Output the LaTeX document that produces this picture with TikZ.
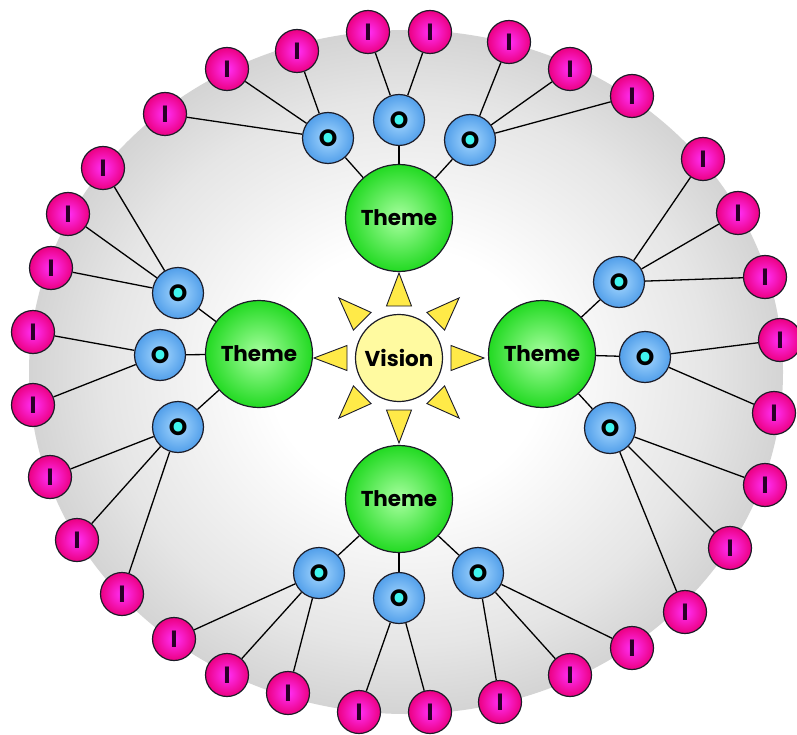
\documentclass[tikz,border=0pt]{standalone}
\usepackage{fontspec}
\setmainfont{Poppins}
\usetikzlibrary{backgrounds}
\definecolor{iin}{HTML}{FF30F8}
\definecolor{iout}{HTML}{EC0082}
\definecolor{oin}{HTML}{A6D8FF}
\definecolor{oout}{HTML}{529FEA}
\definecolor{ocore}{HTML}{40F4EE}
\definecolor{gin}{HTML}{A8FFA0}
\definecolor{gout}{HTML}{22DA22}
\definecolor{vfill}{HTML}{FFFAA0}
\definecolor{tfill}{HTML}{FFEA48}
\definecolor{edge}{HTML}{1C1C28}
\definecolor{iletter}{HTML}{2A0028}
\pgfdeclareradialshading{bgshade}{\pgfpoint{0bp}{0bp}}{color(0bp)=(white); color(9bp)=(white); color(20bp)=(black!10); color(25bp)=(black!17); color(50bp)=(black!17)}
\pgfdeclarelayer{backdrop}
\pgfdeclarelayer{lines}
\pgfsetlayers{backdrop,lines,main}
\begin{document}
\begin{tikzpicture}[x=1pt,y=-1pt,
  txt/.style={font=\fontsize{21.5}{24}\selectfont\bfseries},
  smalltxt/.style={font=\fontsize{23.5}{26}\selectfont\bfseries},
  inode/.style={circle, draw=edge, line width=1.2pt, minimum size=43pt, inner sep=0pt, shade, inner color=iin, outer color=iout, smalltxt, text=iletter},
  onode/.style={circle, draw=edge, line width=1.2pt, minimum size=51pt, inner sep=0pt, shade, inner color=oin, outer color=oout, smalltxt, text=black,
     path picture={\fill[ocore] (path picture bounding box.center) circle (5.8pt);}},
  theme/.style={circle, draw=edge, line width=1.2pt, minimum size=107pt, inner sep=0pt, shade, inner color=gin, outer color=gout, txt, text=black},
  vis/.style={circle, draw=edge, line width=1.2pt, minimum size=87pt, inner sep=0pt, fill=vfill, txt, text=black},
  tri/.style={draw=edge, line width=0.9pt, fill=tfill, line join=miter},
  link/.style={draw=black, line width=1.3pt}]
\useasboundingbox (0,0) rectangle (797,735);
\begin{pgfonlayer}{backdrop}
\shade[shading=bgshade] (406,372) ellipse [x radius=377pt, y radius=342pt];
\end{pgfonlayer}

\node[vis] (V) at (399,358) {Vision};
\begin{scope}[shift={(399,358)}]
\foreach \a in {0,45,...,315}
  \draw[tri, rotate=\a] (52,12.5) -- (85,0) -- (52,-12.5) -- cycle;
\end{scope}

\node[theme] (T) at (399,218) {Theme};
\node[theme] (L) at (259,354) {Theme};
\node[theme] (R) at (542,354) {Theme};
\node[theme] (B) at (399,499) {Theme};

\foreach \n/\x/\y/\t in {ot1/328/138/T, ot2/399/120/T, ot3/470/140/T,
  ol1/178/293/L, ol2/160/355/L, ol3/178/427/L,
  or1/619/282/R, or2/645/357/R, or3/610/428/R,
  ob1/319/573/B, ob2/399/598/B, ob3/478/573/B}
{
  \node[onode] (\n) at (\x,\y) {O};
  \begin{pgfonlayer}{lines}\draw[link] (\t) -- (\n);\end{pgfonlayer}
}

\foreach \n/\x/\y/\o in {
  ta/165/114/ot1, tb/227/69/ot1, tc/297/51/ot1,
  td/368/32/ot2, te/430/32/ot2,
  tf/509/42/ot3, tg/570/69/ot3, th/632/96/ot3,
  la/103/168/ol1, lb/68/214/ol1, lc/51/268/ol1,
  ld/33/332/ol2, le/33/405/ol2,
  lf/50/477/ol3, lg/77/540/ol3, lh/122/594/ol3,
  ra/703/159/or1, rb/738/213/or1, rc/765/277/or1,
  rd/780/340/or2, re/774/413/or2,
  rf/765/485/or3, rg/730/548/or3, rh/685/612/or3,
  ba/174/639/ob1, bb/227/675/ob1, bc/288/693/ob1,
  bd/359/712/ob2, be/430/712/ob2,
  bf/500/702/ob3, bg/570/675/ob3, bh/632/648/ob3}
{
  \node[inode] (\n) at (\x,\y) {I};
  \begin{pgfonlayer}{lines}\draw[link] (\o) -- (\n);\end{pgfonlayer}
}
\end{tikzpicture}
\end{document}
